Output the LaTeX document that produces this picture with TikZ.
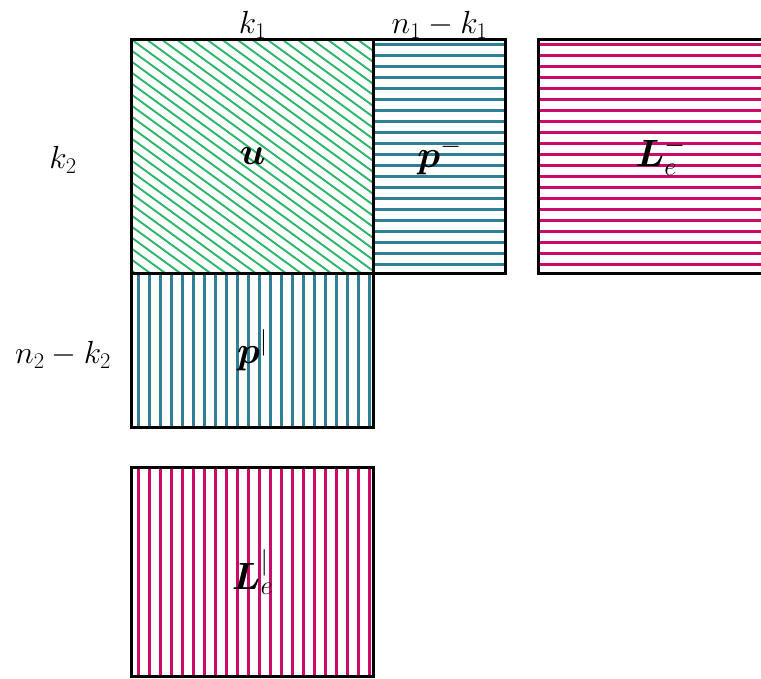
\RequirePackage{fix-cm}
\documentclass[tikz,border=0pt]{standalone}
\usepackage{amsmath,amssymb}
\usepackage{bm}
\usepackage{tikz}
\usetikzlibrary{positioning,calc}
\definecolor{BlokGreen}{HTML}{2DB56A}
\definecolor{BlokTeal}{HTML}{2F7F97}
\definecolor{BlokRose}{HTML}{CC0A6A}

\tikzset{
  blk/.style 2 args={draw=black, line width=3pt, inner sep=0pt, anchor=north west,
    minimum width=#1, minimum height=#2, font=\fontsize{38}{42}\selectfont},
  dimlbl/.style={font=\fontsize{32}{36}\selectfont},
  % hatching drawn inside the block
  hlines/.style={path picture={
    \foreach \i in {0,...,24}
      \draw[#1, line width=2.2pt] ([yshift=-5pt-11pt*\i]path picture bounding box.north west) -- ++(300pt,0);}},
  vlines/.style={path picture={
    \foreach \i in {0,...,22}
      \draw[#1, line width=2.2pt] ([xshift=7pt+11pt*\i]path picture bounding box.north west) -- ++(0,-300pt);}},
  dlines/.style={path picture={
    \foreach \i in {-18,...,23}
      \draw[#1, line width=1.9pt] ([yshift=-11pt*\i]path picture bounding box.north west) -- ++(300pt,-219pt);}}
}

\begin{document}
\begin{tikzpicture}[x=1pt, y=-1pt]
\useasboundingbox (0,0) rectangle (761,679);

% Blocks
\node[blk={242pt}{234pt}, dlines=BlokGreen] (u) at (130,38) {$\bm{u}$};
\node[blk={132pt}{234pt}, hlines=BlokTeal] (pm) at (372,38) {$\bm{p}^{-}$};
\node[blk={244pt}{234pt}, hlines=BlokRose] (lm) at (537,38) {$\bm{L}_{e}^{-}$};
\node[blk={242pt}{154pt}, vlines=BlokTeal] (pv) at (130,272) {$\bm{p}^{|}$};
\node[blk={242pt}{209pt}, vlines=BlokRose] (lv) at (130,466) {$\bm{L}_{e}^{|}$};

% Dimension labels
\node[dimlbl, above=-4pt of u.north] (k1) {$k_1$};
\node[dimlbl, above=-4pt of pm.north] (nk1) {$n_1-k_1$};
\node[dimlbl] (k2) at (63,160) {$k_2$};
\node[dimlbl] (nk2) at (63,355) {$n_2-k_2$};
\end{tikzpicture}
\end{document}
